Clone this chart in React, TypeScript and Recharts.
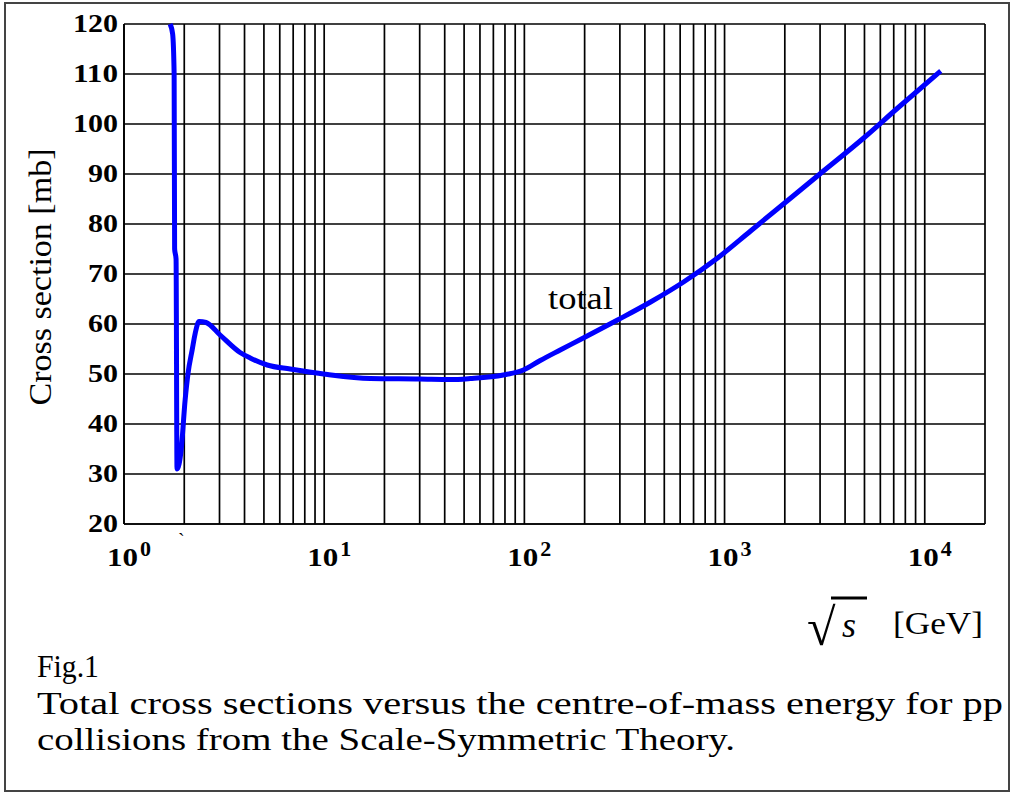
import React from 'react';
import { LineChart, Line, XAxis, YAxis, CartesianGrid } from 'recharts';

// sqrt(s) in GeV
const energyGeV = [
  1.70, 1.75, 1.78, 1.79, 1.82, 1.84, 1.93, 2.02, 2.09, 2.19, 2.27, 2.37, 2.57,
  3.02, 3.80, 4.27, 5.19, 6.76, 7.85, 10.4, 17.0, 30, 42.7, 53.7, 78.5, 98.9,
  120, 151, 197, 292, 427, 624, 923, 1349, 2951, 4955, 7328, 12023,
];
// total cross section in mb
const crossSectionMb = [
  120, 118, 110, 75, 73, 31, 34.8, 44.8, 50.2, 54.8, 58.2, 60.5, 60.3,
  57.8, 54.3, 53.2, 51.8, 51, 50.6, 49.9, 49.1, 49, 48.9, 49.1, 49.8, 50.8,
  52.7, 54.8, 57.2, 60.8, 64.4, 68.4, 73.2, 78.6, 89.8, 97.2, 103.2, 110.6,
];

const xGridTicks = [
  1, 2, 3, 4, 5, 6, 7, 8, 9,
  10, 20, 30, 40, 50, 60, 70, 80, 90,
  100, 200, 300, 400, 500, 600, 700, 800, 900,
  1000, 2000, 3000, 4000, 5000, 6000, 7000, 8000, 9000,
  10000, 20000,
];
const xLabelValues = [1, 10, 100, 1000, 10000];
const xLabelExponents = ['0', '1', '2', '3', '4'];
const yTicks = [20, 30, 40, 50, 60, 70, 80, 90, 100, 110, 120];

const data = energyGeV.map((e, i) => ({ e, sigma: crossSectionMb[i] }));

const SERIF = 'Liberation Serif';

const XTick = (props: any) => {
  const { x, y, payload } = props;
  const idx = xLabelValues.indexOf(payload.value);
  if (idx < 0) return <g />;
  return (
    <g>
      <text x={x - 17} y={y + 34} fontFamily={SERIF} fontWeight="bold" fontSize={26}
        fill="#000" textLength={31} lengthAdjust="spacingAndGlyphs">10</text>
      <text x={x + 16} y={y + 24} fontFamily={SERIF} fontWeight="bold" fontSize={22}
        fill="#000">{xLabelExponents[idx]}</text>
    </g>
  );
};

const YTick = (props: any) => {
  const { x, y, payload } = props;
  const s = String(payload.value);
  return (
    <text x={x + 2} y={y + 8} textAnchor="end" fontFamily={SERIF} fontWeight="bold"
      fontSize={25} fill="#000" textLength={15 * s.length} lengthAdjust="spacingAndGlyphs">{s}</text>
  );
};

export default function App() {
  return (
    <div style={{ position: 'absolute', left: 0, top: 0, width: 1015, height: 796, background: '#fff' }}>
      <div style={{ position: 'absolute', left: 4, top: 2, width: 1002, height: 786, border: '2px solid #444' }} />
      <div style={{ position: 'absolute', left: 0, top: 0 }}>
        <LineChart width={1015} height={796} data={data}
          margin={{ top: 24, right: 30, bottom: 232, left: 0 }}>
          <CartesianGrid stroke="#000" strokeWidth={1.7} />
          <XAxis dataKey="e" type="number" scale="log" domain={[1, 20000]} ticks={xGridTicks}
            allowDataOverflow height={40} tickLine={false} axisLine={{ stroke: '#000', strokeWidth: 1.7 }}
            tick={<XTick />} interval={0} />
          <YAxis type="number" domain={[20, 120]} ticks={yTicks} width={124} tickLine={false}
            axisLine={{ stroke: '#000', strokeWidth: 1.7 }} tick={<YTick />} interval={0} />
          <Line dataKey="sigma" type="monotone" stroke="#0000ff" strokeWidth={5} dot={false}
            isAnimationActive={false} />
        </LineChart>
      </div>
      <svg width={1015} height={796} style={{ position: 'absolute', left: 0, top: 0, pointerEvents: 'none' }}>
        <text x={51} y={277} transform="rotate(-90, 51, 277)" textAnchor="middle" fontFamily={SERIF}
          fontSize={32} fill="#000" textLength={257} lengthAdjust="spacingAndGlyphs">Cross section [mb]</text>
        <text x={548} y={309} fontFamily={SERIF} fontSize={31} fill="#000" textLength={65}
          lengthAdjust="spacingAndGlyphs">total</text>
        <text x={178} y={548} fontFamily={SERIF} fontSize={20} fill="#000">`</text>
        <text x={807} y={645} fontFamily={SERIF} fontSize={52} fontWeight="bold" fill="#000">√</text>
        <line x1={831} y1={598} x2={867} y2={598} stroke="#000" strokeWidth={3} />
        <text x={842} y={637} fontFamily={SERIF} fontStyle="italic" fontSize={36} fill="#000">s</text>
        <text x={893} y={634} fontFamily={SERIF} fontSize={32} fill="#000" textLength={90}
          lengthAdjust="spacingAndGlyphs">[GeV]</text>
        <text x={37} y={677} fontFamily={SERIF} fontSize={32} fill="#000" textLength={62}
          lengthAdjust="spacingAndGlyphs">Fig.1</text>
        <text x={37} y={714} fontFamily={SERIF} fontSize={32} fill="#000" textLength={966}
          lengthAdjust="spacingAndGlyphs">Total cross sections versus the centre-of-mass energy for pp</text>
        <text x={37} y={750} fontFamily={SERIF} fontSize={32} fill="#000" textLength={698}
          lengthAdjust="spacingAndGlyphs">collisions from the Scale-Symmetric Theory.</text>
      </svg>
    </div>
  );
}
